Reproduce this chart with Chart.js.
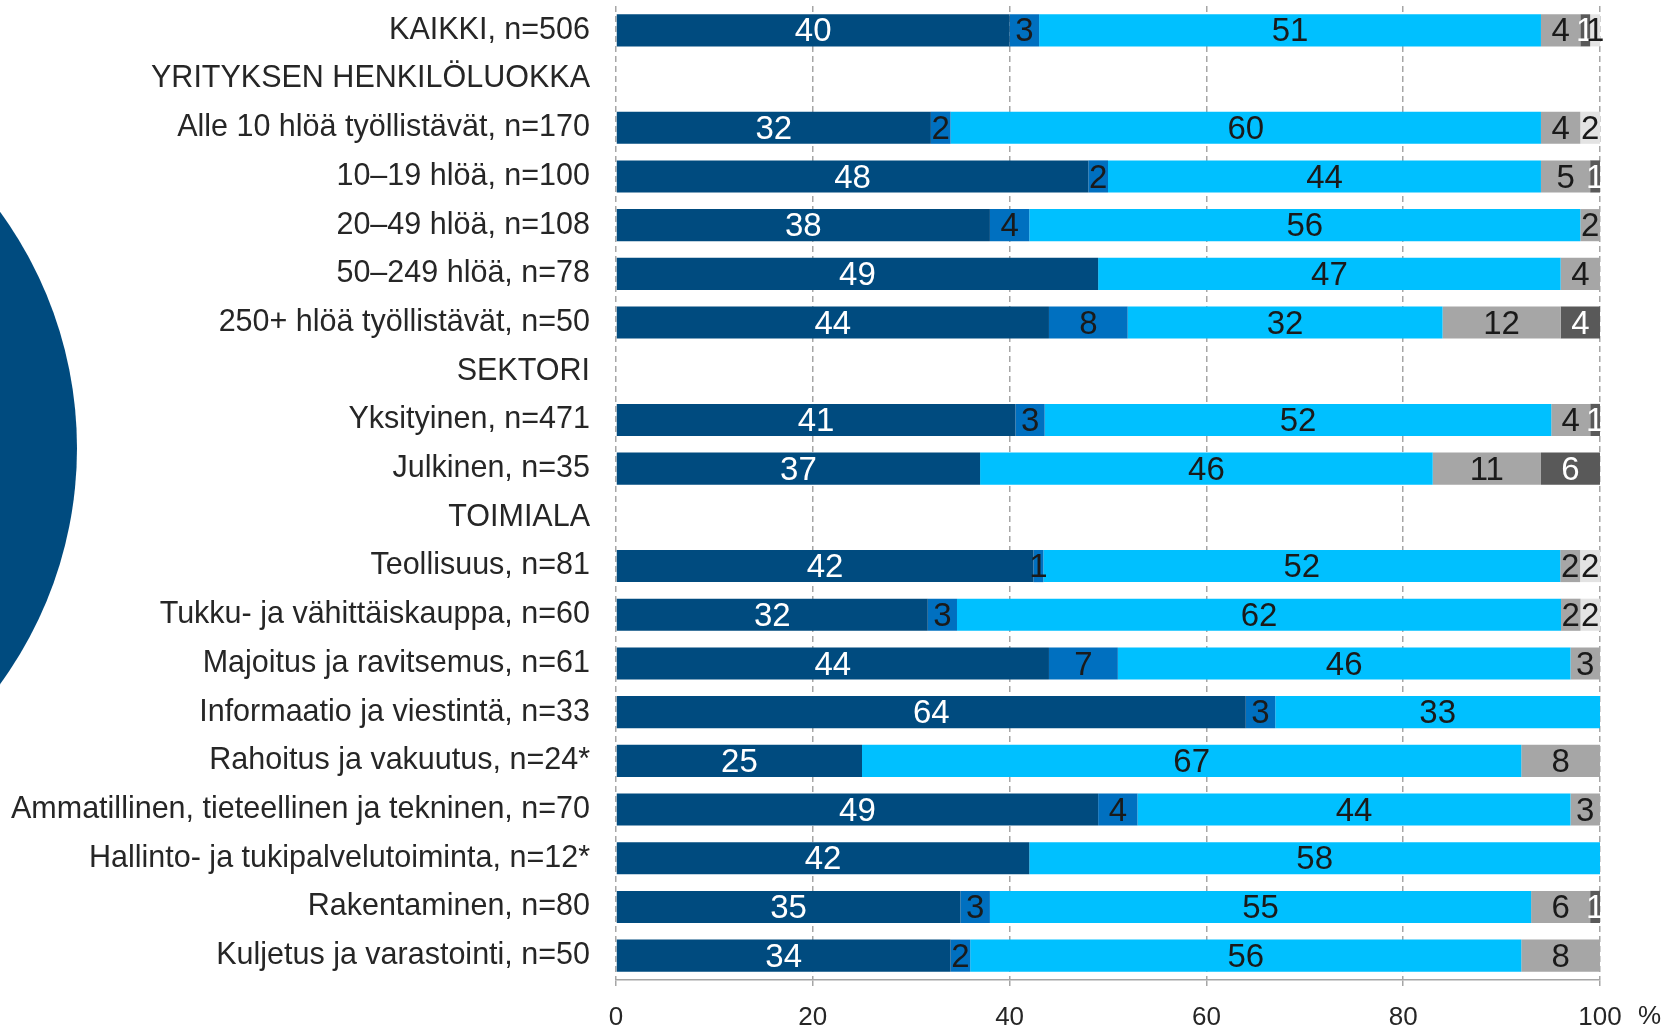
<!DOCTYPE html>
<html>
<head>
<meta charset="utf-8">
<script src="https://cdn.jsdelivr.net/npm/chart.js@4.4.1/dist/chart.umd.min.js"></script>
<style>
	html, body { margin: 0; padding: 0; background: #ffffff; overflow: hidden; }
	#wrap { position: relative; width: 1665px; height: 1027px; overflow: hidden; }
	#pallo { position: absolute; left: -725px; top: 47px; width: 802px; height: 802px; border-radius: 50%; background: #004b7f; }
	#myChart { position: absolute; left: 0; top: 0; }
</style>
</head>
<body>
<div id="wrap">
	<div id="pallo"></div>
	<canvas id="myChart" width="1665" height="1027"></canvas>
</div>
<script>
var labels = [
	'KAIKKI, n=506',
	'YRITYKSEN HENKILÖLUOKKA',
	'Alle 10 hlöä työllistävät, n=170',
	'10–19 hlöä, n=100',
	'20–49 hlöä, n=108',
	'50–249 hlöä, n=78',
	'250+ hlöä työllistävät, n=50',
	'SEKTORI',
	'Yksityinen, n=471',
	'Julkinen, n=35',
	'TOIMIALA',
	'Teollisuus, n=81',
	'Tukku- ja vähittäiskauppa, n=60',
	'Majoitus ja ravitsemus, n=61',
	'Informaatio ja viestintä, n=33',
	'Rahoitus ja vakuutus, n=24*',
	'Ammatillinen, tieteellinen ja tekninen, n=70',
	'Hallinto- ja tukipalvelutoiminta, n=12*',
	'Rakentaminen, n=80',
	'Kuljetus ja varastointi, n=50'
];

// sarjat vasemmalta oikealle (pyöristetyt prosentit kuten kuvassa)
var sarja1 = [40, null, 32, 48, 38, 49, 44, null, 41, 37, null, 42, 32, 44, 64, 25, 49, 42, 35, 34];
var sarja2 = [3, null, 2, 2, 4, 0, 8, null, 3, 0, null, 1, 3, 7, 3, 0, 4, 0, 3, 2];
var sarja3 = [51, null, 60, 44, 56, 47, 32, null, 52, 46, null, 52, 62, 46, 33, 67, 44, 58, 55, 56];
var sarja4 = [4, null, 4, 5, 2, 4, 12, null, 4, 11, null, 2, 2, 3, 0, 8, 3, 0, 6, 8];
var sarja5 = [1, null, 0, 1, 0, 0, 4, null, 1, 6, null, 0, 0, 0, 0, 0, 0, 0, 1, 0];
var sarja6 = [1, null, 2, 0, 0, 0, 0, null, 0, 0, null, 2, 2, 0, 0, 0, 0, 0, 0, 0];

var xTicks = [0, 20, 40, 60, 80, 100];

var kaikki = [sarja1, sarja2, sarja3, sarja4, sarja5, sarja6];
var fontti = '"Liberation Sans", Arial, sans-serif';

// 100 % pinottu: rivin osuudet skaalataan summaan
function osuudet(data) {
	var out = [];
	for (let j = 0; j < data.length; j++) {
		if (data[j] === null) { out.push(null); continue; }
		var total = 0;
		for (let k = 0; k < kaikki.length; k++) {
			total = total + kaikki[k][j];
		}
		out.push(data[j] / total * 100);
	}
	return out;
}

var arvoPlugin = {
	id: 'arvot',
	afterDatasetsDraw: function(chart) {
		var ctx = chart.ctx;
		var area = chart.chartArea;
		ctx.save();
		ctx.font = '33px ' + fontti;
		ctx.textAlign = 'center';
		ctx.textBaseline = 'middle';
		chart.data.datasets.forEach(function(ds, i) {
			var meta = chart.getDatasetMeta(i);
			meta.data.forEach(function(bar, j) {
				var v = ds.raaka[j];
				if (v === null || v <= 0) return;
				var p = bar.getProps(['x', 'y', 'base'], true);
				var x1 = Math.max(Math.min(p.x, p.base), area.left);
				var x2 = Math.min(Math.max(p.x, p.base), area.right);
				ctx.fillStyle = ds.tekstiVari;
				ctx.fillText(String(v), (x1 + x2) / 2, p.y + 2);
			});
		});
		// prosenttimerkki akselin perään
		ctx.font = '26px ' + fontti;
		ctx.fillStyle = '#262626';
		ctx.textAlign = 'left';
		ctx.fillText('%', 1638, 1017);
		ctx.restore();
	}
};

function sarja(data, vari, tekstiVari) {
	return {
		data: osuudet(data),
		raaka: data,
		backgroundColor: vari,
		borderWidth: 0,
		tekstiVari: tekstiVari,
		categoryPercentage: 1,
		barPercentage: 0.66
	};
}

var ctx = document.getElementById('myChart');
var chart = new Chart(ctx, {
	type: 'bar',
	data: {
		labels: labels,
		datasets: [
			sarja(sarja1, '#004b7f', '#ffffff'),
			sarja(sarja2, '#0070c0', '#1a1a1a'),
			sarja(sarja3, '#00c0ff', '#1a1a1a'),
			sarja(sarja4, '#a6a6a6', '#1a1a1a'),
			sarja(sarja5, '#595959', '#ffffff'),
			sarja(sarja6, '#e3e3e3', '#1a1a1a')
		]
	},
	options: {
		indexAxis: 'y',
		responsive: false,
		animation: false,
		layout: { padding: { top: 6, right: 65, left: 0, bottom: 0 } },
		plugins: {
			legend: { display: false },
			tooltip: { enabled: false }
		},
		scales: {
			x: {
				stacked: true,
				min: 0,
				max: 100,
				afterBuildTicks: function(s) {
					s.ticks = xTicks.map(function(v) { return { value: v }; });
				},
				afterFit: function(s) {
					s.height = 47;
					s.paddingLeft = 0;
					s.paddingRight = 0;
				},
				grid: {
					color: '#a6a6a6',
					lineWidth: 1.5,
					tickLength: 6,
					tickColor: '#a6a6a6'
				},
				border: { display: true, color: '#a6a6a6', width: 1.5, dash: [6, 4] },
				ticks: {
					padding: 16,
					color: '#262626',
					font: { size: 26, family: fontti }
				}
			},
			y: {
				stacked: true,
				afterFit: function(s) {
					s.width = 616;
					s.paddingTop = 0;
					s.paddingBottom = 0;
				},
				grid: { display: false, drawTicks: false },
				border: { display: false },
				ticks: {
					padding: 26,
					autoSkip: false,
					color: '#262626',
					font: { size: 30.5, family: fontti }
				}
			}
		}
	},
	plugins: [arvoPlugin]
});
</script>
</body>
</html>
